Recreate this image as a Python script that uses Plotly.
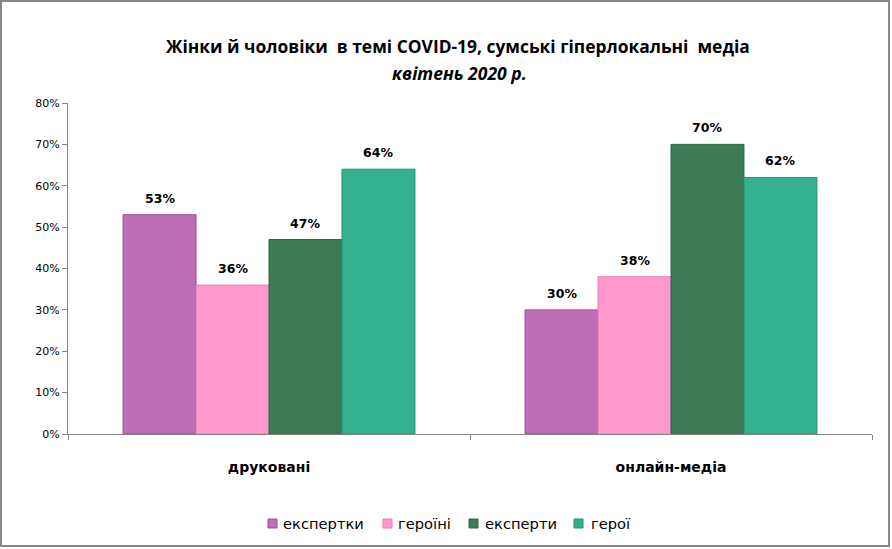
import plotly.graph_objects as go

categories = ["друковані", "онлайн-медіа"]
series_names = ["експертки", "героїні", "експерти", "герої"]
ekspertky = [0.53, 0.30]
heroini = [0.36, 0.38]
eksperty = [0.47, 0.70]
heroi = [0.64, 0.62]
y_ticks = [0, 0.1, 0.2, 0.3, 0.4, 0.5, 0.6, 0.7, 0.8]

values = [ekspertky, heroini, eksperty, heroi]
fills = ["#BC6FB5", "#FF99CC", "#3D7A56", "#33B08E"]
lines = ["#A5479B", "#E57FBF", "#2F6445", "#2A8F73"]

L, R, T, B = 68, 20, 103, 115
W, H = 892, 549
pw, ph = W - L - R, H - T - B
BARGAP = 0.274
bar_px = pw / len(categories) * (1 - BARGAP) / len(series_names)


def px_x(x):
    return (x - L) / pw


def px_y(y):
    return (H - B - y) / ph


fig = go.Figure()
annotations = []
for i, (name, vals, fc, lc) in enumerate(zip(series_names, values, fills, lines)):
    fig.add_trace(go.Bar(
        x=categories, y=vals, name=name,
        marker=dict(color=fc, line=dict(color=lc, width=1)),
        showlegend=False,
    ))
    for c, v in zip(categories, vals):
        annotations.append(dict(
            x=c, y=v, xref="x", yref="y", text=f"<b>{round(v*100)}%</b>",
            showarrow=False, xanchor="center", yanchor="bottom",
            xshift=(i - (len(series_names) - 1) / 2) * bar_px, yshift=7,
            font=dict(family="DejaVu Sans", size=12.5, color="black"),
        ))

# manual legend (squares + labels)
legend_sq_x = [268, 383, 469, 574]
legend_txt_x = [281, 396, 483, 589]
shapes = [dict(type="rect", xref="paper", yref="paper",
               x0=px_x(1), x1=px_x(889), y0=px_y(546), y1=px_y(1),
               line=dict(color="#868686", width=2), fillcolor="rgba(0,0,0,0)", layer="below")]
for name, fc, lc, sx, tx in zip(series_names, fills, lines, legend_sq_x, legend_txt_x):
    shapes.append(dict(type="rect", xref="paper", yref="paper",
                       x0=px_x(sx), x1=px_x(sx + 9), y0=px_y(528), y1=px_y(519),
                       line=dict(color=lc, width=1), fillcolor=fc))
    annotations.append(dict(text=name, xref="paper", yref="paper", x=px_x(tx), y=px_y(523),
                            xanchor="left", yanchor="middle", showarrow=False,
                            font=dict(family="DejaVu Sans", size=14.7, color="black")))

annotations += [
    dict(text="<b>Жінки й чоловіки  в темі COVID-19, сумські гіперлокальні  медіа</b>",
         xref="paper", yref="paper", x=px_x(458), y=px_y(46), xanchor="center", yanchor="middle",
         showarrow=False, font=dict(family="Open Sans", size=17.4, color="black")),
    dict(text="<b><i>квітень 2020 р.</i></b>",
         xref="paper", yref="paper", x=px_x(459), y=px_y(73), xanchor="center", yanchor="middle",
         showarrow=False, font=dict(family="Open Sans", size=17.5, color="black")),
]

fig.update_layout(
    width=W, height=H,
    margin=dict(l=L, r=R, t=T, b=B),
    paper_bgcolor="white", plot_bgcolor="white",
    barmode="group", bargap=BARGAP, bargroupgap=0,
    font=dict(family="DejaVu Sans", size=11, color="black"),
    showlegend=False,
    xaxis=dict(showline=True, linecolor="#868686", linewidth=1, ticks="outside", ticklen=5,
               tickcolor="#868686", tickson="boundaries",
               tickfont=dict(family="DejaVu Sans", size=14, weight="bold"), ticklabelstandoff=20),
    yaxis=dict(range=[0, 0.8], tickvals=y_ticks, tickformat=".0%", showgrid=False, zeroline=False,
               showline=True, linecolor="#868686", linewidth=1, ticks="outside", ticklen=5,
               tickcolor="#868686", tickfont=dict(family="DejaVu Sans", size=11)),
    annotations=annotations,
    shapes=shapes,
)

fig.write_html("out.html")
